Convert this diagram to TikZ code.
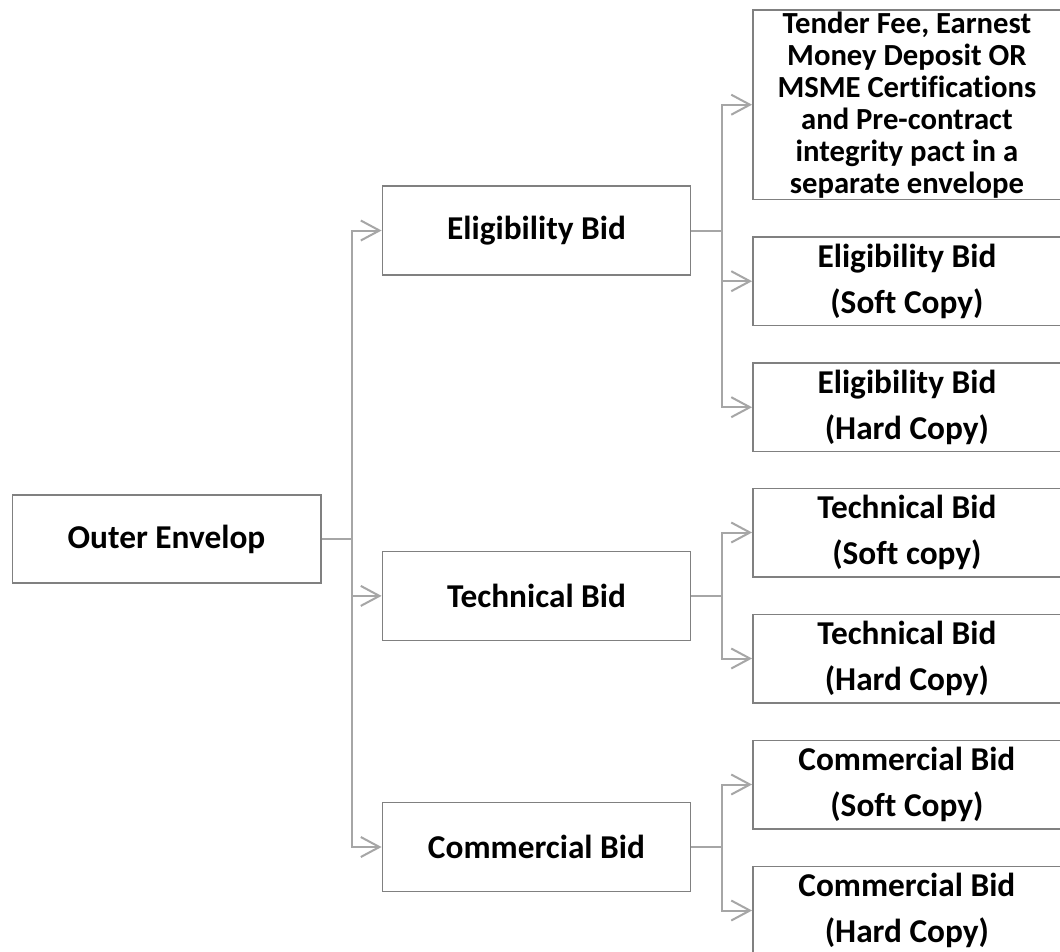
\documentclass[tikz,border=0pt]{standalone}
\usepackage{fontspec}
\setmainfont{Carlito}[Ligatures=NoCommon]
\usetikzlibrary{arrows.meta}
\definecolor{boxgray}{RGB}{128,128,128}
\definecolor{linegray}{RGB}{166,166,166}
\tikzset{
  box/.style={draw=boxgray, line width=1.1pt, fill=white, inner sep=0pt, align=center,
    font=\fontsize{25pt}{34.3pt}\selectfont\bfseries, text=black},
  midbox/.style={box, minimum width=231.3pt, minimum height=67pt},
  rbox/.style={box, minimum width=231.2pt, minimum height=66.4pt},
  conn/.style={draw=linegray, line width=1.5pt},
  arr/.style={conn, -{Straight Barb[length=14pt,width=15pt,line width=1.5pt]}},
}
\begin{document}
\begin{tikzpicture}[x=0.75pt,y=-0.75pt]
\useasboundingbox (0,0) rectangle (1060,951);
\clip (0,0) rectangle (1060,951);
\fill[white] (0,0) rectangle (1060,951);
% nodes
\node[box, minimum width=231.4pt, minimum height=66pt] (outer) at (166.5,539) {Outer Envelop};
\node[midbox] (elig) at (536.5,230.5) {Eligibility Bid};
\node[midbox] (tech) at (536.5,595.9) {Technical Bid};
\node[midbox] (comm) at (536.5,847) {Commercial Bid};
\node[box, minimum width=231.2pt, minimum height=142pt, font=\fontsize{23pt}{24pt}\selectfont\bfseries] (tender) at (906.9,104.7)
  {Tender Fee, Earnest\\Money Deposit OR\\MSME Certifications\\and Pre-contract\\integrity pact in a\\separate envelope};
\node[rbox] (es) at (906.9,281.2) {Eligibility Bid\\(Soft Copy)};
\node[rbox] (eh) at (906.9,407.2) {Eligibility Bid\\(Hard Copy)};
\node[rbox] (ts) at (906.9,532.5) {Technical Bid\\(Soft copy)};
\node[rbox] (th) at (906.9,658.5) {Technical Bid\\(Hard Copy)};
\node[rbox] (cs) at (906.9,784.5) {Commercial Bid\\(Soft Copy)};
\node[rbox] (ch) at (906.9,910.5) {Commercial Bid\\(Hard Copy)};
% junction coordinates
\coordinate (T) at (351.5,539);
\coordinate (E) at (722,230.5);
\coordinate (C) at (722,595.9);
\coordinate (M) at (722,847);
% connectors
\draw[conn] (outer.east) -- (T);
\draw[arr] (T) |- (elig.west);
\draw[arr] (T) |- (tech.west);
\draw[arr] (T) |- (comm.west);
\draw[conn] (elig.east) -- (E);
\draw[arr] (E) |- (tender.west);
\draw[arr] (E) |- (es.west);
\draw[arr] (E) |- (eh.west);
\draw[conn] (tech.east) -- (C);
\draw[arr] (C) |- (ts.west);
\draw[arr] (C) |- (th.west);
\draw[conn] (comm.east) -- (M);
\draw[arr] (M) |- (cs.west);
\draw[arr] (M) |- (ch.west);
\end{tikzpicture}
\end{document}
